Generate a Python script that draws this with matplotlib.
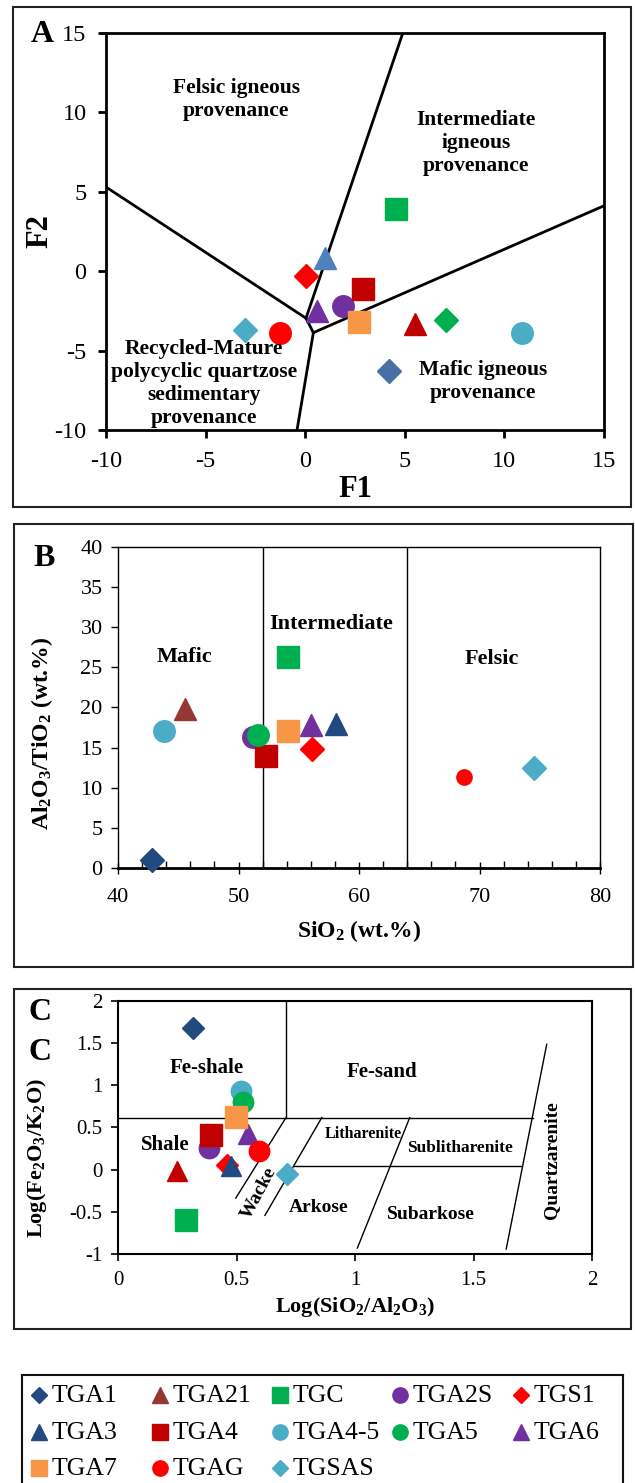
import numpy as np
import matplotlib
matplotlib.use('Agg')
import matplotlib.pyplot as plt
from matplotlib.patches import Rectangle

plt.rcParams['font.family'] = ['Liberation Serif', 'DejaVu Serif']
plt.rcParams['mathtext.fontset'] = 'custom'
plt.rcParams['mathtext.rm'] = 'Liberation Serif'
plt.rcParams['mathtext.it'] = 'Liberation Serif:italic'
plt.rcParams['mathtext.bf'] = 'Liberation Serif:bold'
plt.rcParams['axes.unicode_minus'] = False

# Samples (legend order)
samples = ['TGA1', 'TGA21', 'TGC', 'TGA2S', 'TGS1', 'TGA3', 'TGA4',
           'TGA4-5', 'TGA5', 'TGA6', 'TGA7', 'TGAG', 'TGSAS']
markers = ['D', '^', 's', 'o', 'D', '^', 's', 'o', 'o', '^', 's', 'o', 'D']
colors = ['#234A80', '#953735', '#00B050', '#7030A0', '#FF0000', '#234A80', '#C00000',
          '#4BACC6', '#00B050', '#7030A0', '#F79646', '#FF0000', '#4BACC6']

# Panel A: discriminant functions
f1 = [4.2, 5.5, 4.55, 1.9, 0.04, 0.98, 2.92, 10.86, 7.08, 0.61, 2.71, -1.27, -3.02]
f2 = [-6.3, -3.35, 3.9, -2.2, -0.3, 0.8, -1.1, -3.9, -3.1, -2.5, -3.2, -3.9, -3.7]
markers_a = ['D', '^', 's', 'o', 'D', '^', 's', 'o', 'D', '^', 's', 'o', 'D']
colors_a = ['#4A6FA5', '#C00000', '#00B050', '#7030A0', '#FF0000', '#4F81BD', '#C00000',
            '#4BACC6', '#00B050', '#7030A0', '#F79646', '#FF0000', '#4BACC6']

# Panel B: SiO2 vs Al2O3/TiO2
sio2 = [42.83, 45.6, 54.07, 51.2, 56.06, 58.05, 52.26, 43.84, 51.6, 56.0, 54.1, 68.7, 74.5]
al_ti = [0.95, 19.8, 26.35, 16.3, 14.8, 18.0, 14.0, 17.1, 16.55, 17.8, 17.1, 11.4, 12.45]

# Panel C: Herron classification
log_si_al = [0.316, 0.25, 0.287, 0.385, 0.46, 0.475, 0.393, 0.521, 0.526, 0.547, 0.496, 0.595, 0.711]
log_fe_k = [1.684, -0.02, -0.594, 0.255, 0.06, 0.04, 0.413, 0.934, 0.807, 0.42, 0.63, 0.226, -0.05]
colors_c = list(colors)
colors_c[1] = '#C00000'

msize = {'D': 12.3, '^': 15.5, 's': 16, 'o': 15.5}

W, H = 635, 1483
fig = plt.figure(figsize=(W / 100, H / 100), dpi=100)


def fbox(l, t, r, b):
    return [l / W, 1 - b / H, (r - l) / W, (b - t) / H]


# panel frames
for l, t, r, b in [(13, 7, 631, 507), (14, 524, 633, 967), (14, 989, 631, 1329)]:
    fig.add_artist(Rectangle((l / W, 1 - b / H), (r - l) / W, (b - t) / H,
                             transform=fig.transFigure, fill=False, lw=1.5, ec='#222222'))

# ---------------- Panel A ----------------
ax = fig.add_axes(fbox(106, 33, 604, 430))
ax.plot([-10, 0.04], [5.3, -2.96], 'k', lw=2)
ax.plot([0.04, 4.9], [-2.96, 15], 'k', lw=2)
ax.plot([0.04, 0.41], [-2.96, -3.87], 'k', lw=2)
ax.plot([0.41, -0.41], [-3.87, -10], 'k', lw=2)
ax.plot([0.41, 15], [-3.87, 4.12], 'k', lw=2)
for i in range(len(samples)):
    ax.plot(f1[i], f2[i], marker=markers_a[i], color=colors_a[i], ms=msize[markers_a[i]],
            ls='none', zorder=3)
ax.set_xlim(-10, 15)
ax.set_ylim(-10, 15)
ax.set_xticks(np.arange(-10, 16, 5))
ax.set_yticks(np.arange(-10, 16, 5))
for s in ax.spines.values():
    s.set_linewidth(2)
ax.tick_params(labelsize=17.5, width=2, length=6, direction='out')
ax.tick_params(axis='x', pad=9)
ax.tick_params(axis='y', pad=8)
ax.set_xlabel('F1', fontsize=22, fontweight='bold', labelpad=2)
ax.set_ylabel('F2', fontsize=22, fontweight='bold', labelpad=0)
tk = dict(fontsize=15.5, fontweight='bold', ha='center', va='center')
ax.text(-3.47, 10.8, 'Felsic igneous\nprovenance', **tk)
ax.text(8.57, 8.07, 'Intermediate\nigneous\nprovenance', **tk)
ax.text(-5.1, -7.06, 'Recycled-Mature\npolycyclic quartzose\nsedimentary\nprovenance',
        clip_on=False, zorder=4, **tk)
ax.text(8.94, -6.95, 'Mafic igneous\nprovenance', **tk)
fig.text(42 / W, 1 - 34 / H, 'A', fontsize=23, fontweight='bold', ha='center', va='center')

# ---------------- Panel B ----------------
ax = fig.add_axes(fbox(118, 547, 600, 868))
ax.plot([52, 52], [0, 40], 'k', lw=1)
ax.plot([64, 64], [0, 40], 'k', lw=1)
for i in range(len(samples)):
    ms = 11 if samples[i] == 'TGAG' else msize[markers[i]]
    ax.plot(sio2[i], al_ti[i], marker=markers[i], color=colors[i], ms=ms, ls='none',
            zorder=3, clip_on=False)
ax.set_xlim(40, 80)
ax.set_ylim(0, 40)
ax.set_xticks(np.arange(40, 81, 10))
ax.set_xticks(np.arange(40, 81, 2), minor=True)
ax.set_yticks(np.arange(0, 41, 5))
ax.spines['bottom'].set_linewidth(2)
for k in ['left', 'top', 'right']:
    ax.spines[k].set_linewidth(1)
ax.tick_params(axis='x', which='major', labelsize=16, direction='inout', length=9, width=1,
               pad=10)
ax.tick_params(axis='x', which='minor', direction='in', length=5, width=1)
ax.tick_params(axis='y', labelsize=16, direction='out', length=5, width=1, pad=6)
ax.set_xlabel(r'SiO$_\mathbf{2}$ (wt.%)', fontsize=17, fontweight='bold', labelpad=8)
ax.set_ylabel(r'Al$_\mathbf{2}$O$_\mathbf{3}$/TiO$_\mathbf{2}$ (wt.%)', fontsize=17,
              fontweight='bold')
ax.yaxis.set_label_coords(-0.13, 0.42)
tk = dict(fontsize=16, fontweight='bold', ha='center', va='center')
ax.text(45.5, 26.3, 'Mafic', **tk)
ax.text(57.7, 30.4, 'Intermediate', **tk)
ax.text(71.0, 26.1, 'Felsic', **tk)
fig.text(44 / W, 1 - 558 / H, 'B', fontsize=23, fontweight='bold', ha='center', va='center')

# ---------------- Panel C ----------------
ax = fig.add_axes(fbox(118, 1001, 592, 1254))
lk = dict(color='k', lw=1)
ax.plot([0, 1.749], [0.618, 0.618], **lk)
ax.plot([0.709, 0.709], [0.618, 2], **lk)
ax.plot([0.744, 1.706], [0.046, 0.046], **lk)
ax.plot([0.497, 0.709], [-0.337, 0.618], **lk)
ax.plot([0.62, 0.86], [-0.542, 0.618], **lk)
ax.plot([1.01, 1.231], [-0.929, 0.618], **lk)
ax.plot([1.638, 1.809], [-0.941, 1.487], **lk)
for i in range(len(samples)):
    ax.plot(log_si_al[i], log_fe_k[i], marker=markers[i], color=colors_c[i],
            ms=msize[markers[i]] - 0.8, ls='none', zorder=3)
ax.set_xlim(0, 2)
ax.set_ylim(-1, 2)
ax.set_xticks(np.arange(0, 2.01, 0.5))
ax.set_xticklabels(['0', '0.5', '1', '1.5', '2'])
ax.set_yticks(np.arange(-1, 2.01, 0.5))
ax.set_yticklabels(['-1', '-0.5', '0', '0.5', '1', '1.5', '2'])
for s in ax.spines.values():
    s.set_linewidth(1.5)
ax.tick_params(labelsize=15, direction='out', length=5, width=1.2)
ax.tick_params(axis='x', pad=7)
ax.tick_params(axis='y', pad=6)
ax.set_xlabel(r'Log(SiO$_\mathbf{2}$/Al$_\mathbf{2}$O$_\mathbf{3}$)', fontsize=16,
              fontweight='bold', labelpad=4)
ax.set_ylabel(r'Log(Fe$_\mathbf{2}$O$_\mathbf{3}$/K$_\mathbf{2}$O)', fontsize=16,
              fontweight='bold')
ax.yaxis.set_label_coords(-0.145, 0.38)
tk = dict(fontweight='bold', ha='center', va='center')
ax.text(0.373, 1.2, 'Fe-shale', fontsize=15, **tk)
ax.text(1.113, 1.16, 'Fe-sand', fontsize=15, **tk)
ax.text(0.2, 0.29, 'Shale', fontsize=15, **tk)
ax.text(1.034, 0.42, 'Litharenite', fontsize=11.5, **tk)
ax.text(1.444, 0.255, 'Sublitharenite', fontsize=12.5, **tk)
ax.text(0.595, -0.28, 'Wacke', fontsize=14, rotation=62, **tk)
ax.text(0.848, -0.45, 'Arkose', fontsize=14, **tk)
ax.text(1.321, -0.53, 'Subarkose', fontsize=14, **tk)
ax.text(1.829, 0.117, 'Quartzarenite', fontsize=14, rotation=90, **tk)
fig.text(40 / W, 1 - 1013 / H, 'C', fontsize=23, fontweight='bold', ha='center', va='center')
fig.text(40 / W, 1 - 1053 / H, 'C', fontsize=23, fontweight='bold', ha='center', va='center')

# ---------------- Legend (5-column grid, row by row, bottom cut by the page) ----------------
lax = fig.add_axes(fbox(22, 1375, 623, 1500))
lax.set_xlim(22, 623)
lax.set_ylim(1500, 1375)
lax.set_xticks([])
lax.set_yticks([])
for s in lax.spines.values():
    s.set_linewidth(1.5)
    s.set_color('#111111')
col_x = [39, 160, 280, 400, 521]
row_y = [1395, 1432, 1468]
leg_ms = {'D': 8.2, '^': 11, 's': 11, 'o': 11}
for i in range(len(samples)):
    x = col_x[i % 5]
    y = row_y[i // 5]
    lax.plot(x, y, marker=markers[i], color=colors[i], ms=leg_ms[markers[i]], ls='none')
    lax.text(x + 13, y + 1, samples[i], fontsize=18.5, ha='left', va='center')

fig.savefig('out.png', dpi=100)
